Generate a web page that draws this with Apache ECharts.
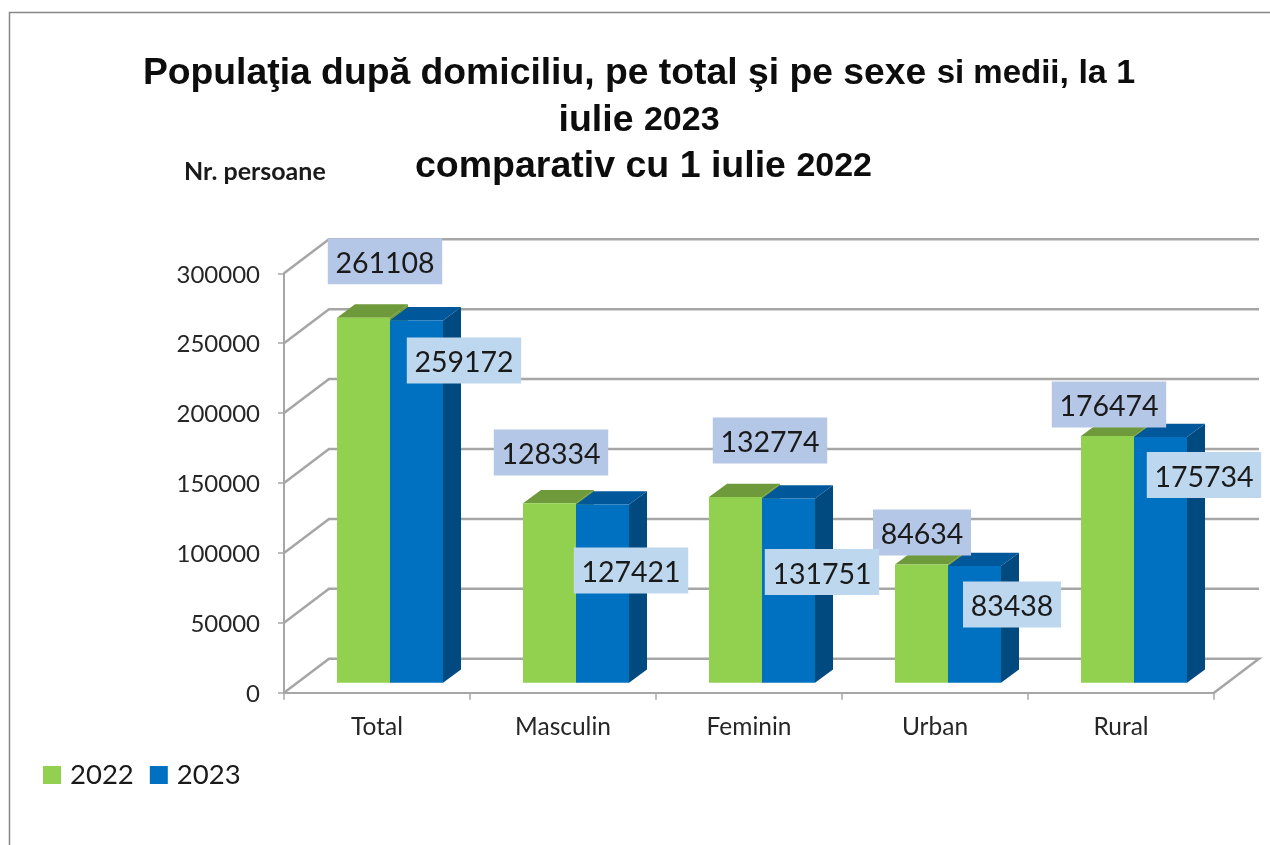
<!DOCTYPE html>
<html>
<head>
<meta charset="utf-8">
<style>html,body{margin:0;padding:0;background:#fff}#c{width:1270px;height:845px}</style>
<script src="https://cdn.jsdelivr.net/npm/echarts@6/dist/echarts.min.js"></script>
</head>
<body>
<div id="c"></div>
<script>
var categories = ['Total', 'Masculin', 'Feminin', 'Urban', 'Rural'];
var values2022 = [261108, 128334, 132774, 84634, 176474];
var values2023 = [259172, 127421, 131751, 83438, 175734];
var yTicks = [0, 50000, 100000, 150000, 200000, 250000, 300000];

// hand-placed data label nudges in the original, relative to the bar's top front edge
var labelNudge2022 = [[21.5, -56.5], [1.5, -50.8], [34.5, -56.6], [0.5, -32], [1.5, -31.5]];
var labelNudge2023 = [[47.5, 40], [28.5, 66], [33.5, 73.5], [37.5, 38.5], [43.5, 38]];

var WALL_DX = 45, WALL_DY = -34;     // depth of the chart floor
var FRONT_DX = 13, FRONT_DY = -10;   // bars' front plane, behind the axis plane
var BAR_DX = 18, BAR_DY = -13.3;     // depth of a bar
var BAR_SHARE = 53 / 186;
var GRID_COLOR = '#a6a6a6';
var LABEL_DIGIT = 16.4, LABEL_PAD = 8, LABEL_H = 46, LABEL_TEXT_DROP = 2.5;

function pairs(values) {
  return values.map(function (v, i) { return [categories[i], v]; });
}

function barRenderer(seriesIndex, front, top, side, nudges, labelBg) {
  return function (params, api) {
    var i = params.dataIndex;
    var val = api.value(1);
    var pt = api.coord([api.value(0), val]);
    var base = api.coord([api.value(0), 0]);
    var w = api.size([1, 0])[0] * BAR_SHARE;
    var x0 = pt[0] - w + seriesIndex * w + FRONT_DX;
    var x1 = x0 + w;
    var yT = pt[1] + FRONT_DY;
    var yB = base[1] + FRONT_DY;
    var nudge = nudges[i];
    var text = String(val);
    var lx = x0 + w / 2 + nudge[0];
    var ly = yT + nudge[1];
    var lw = text.length * LABEL_DIGIT + LABEL_PAD * 2;
    return {
      type: 'group',
      children: [
        { type: 'polygon', z2: seriesIndex,
          shape: { points: [[x1, yT], [x1 + BAR_DX, yT + BAR_DY], [x1 + BAR_DX, yB + BAR_DY], [x1, yB]] },
          style: { fill: side } },
        { type: 'polygon', z2: seriesIndex,
          shape: { points: [[x0, yT], [x0 + BAR_DX, yT + BAR_DY], [x1 + BAR_DX, yT + BAR_DY], [x1, yT]] },
          style: { fill: top } },
        { type: 'rect', z2: seriesIndex,
          shape: { x: x0, y: yT, width: w, height: yB - yT },
          style: { fill: front } },
        { type: 'rect', z2: 100 + seriesIndex,
          shape: { x: lx - lw / 2, y: ly - LABEL_H / 2, width: lw, height: LABEL_H },
          style: { fill: labelBg } },
        { type: 'text', z2: 110 + seriesIndex,
          style: {
            text: text,
            x: lx, y: ly + LABEL_TEXT_DROP,
            align: 'center', verticalAlign: 'middle',
            font: '28.5px Lato', fill: '#1a1a1a'
          } }
      ]
    };
  };
}

var chart = echarts.init(document.getElementById('c'), null, { renderer: 'canvas' });
chart.setOption({
  animation: false,
  backgroundColor: '#ffffff',
  title: [
    { text: '{a|Populaţia după domiciliu, pe total şi pe sexe }{b|si medii}{c|, la 1}',
      left: 634, top: 50, textAlign: 'center',
      textStyle: { rich: {
        a: { fontFamily: 'Liberation Sans', fontWeight: 'bold', fontSize: 37.3, color: '#0d0d0d' },
        b: { fontFamily: 'Liberation Sans', fontWeight: 'bold', fontSize: 33, color: '#0d0d0d' },
        c: { fontFamily: 'Liberation Sans', fontWeight: 'bold', fontSize: 34, color: '#0d0d0d' } } } },
    { text: '{a|iulie }{b|2023}',
      left: 634, top: 97, textAlign: 'center',
      textStyle: { rich: {
        a: { fontFamily: 'Liberation Sans', fontWeight: 'bold', fontSize: 37.5, color: '#0d0d0d' },
        b: { fontFamily: 'Liberation Sans', fontWeight: 'bold', fontSize: 34, color: '#0d0d0d' } } } },
    { text: '{a|comparativ cu 1 iulie }{b|2022}',
      left: 638.5, top: 143, textAlign: 'center',
      textStyle: { rich: {
        a: { fontFamily: 'Liberation Sans', fontWeight: 'bold', fontSize: 37.5, color: '#0d0d0d' },
        b: { fontFamily: 'Liberation Sans', fontWeight: 'bold', fontSize: 34, color: '#0d0d0d' } } } },
    { text: 'Nr. persoane', left: 179, top: 154,
      textStyle: { fontFamily: 'Lato', fontWeight: 'bold', fontSize: 25, color: '#1a1a1a' } }
  ],
  legend: {
    data: ['2022', '2023'], left: 38, top: 756, itemWidth: 18, itemHeight: 18, itemGap: 16,
    icon: 'rect',
    textStyle: { fontFamily: 'Lato', fontSize: 27.5, color: '#1a1a1a', padding: [0, 0, 0, 4] }
  },
  grid: { left: 284, top: 273.3, width: 930, height: 419.4, containLabel: false },
  xAxis: {
    type: 'category', data: categories,
    axisLine: { lineStyle: { color: GRID_COLOR, width: 2 } },
    axisTick: { show: true, length: 7, lineStyle: { color: GRID_COLOR, width: 1.5 } },
    axisLabel: { fontFamily: 'Lato', fontSize: 24.5, color: '#262626', margin: 22 },
    splitLine: { show: false }
  },
  yAxis: {
    type: 'value', min: 0, max: 300000, interval: 50000,
    axisLine: { show: true, lineStyle: { color: GRID_COLOR, width: 2 } },
    axisTick: { show: true, length: 6, lineStyle: { color: GRID_COLOR, width: 1.5 } },
    axisLabel: { margin: 24, formatter: function (v) { return '{a|' + v + '}'; },
      rich: { a: { fontFamily: 'Lato', fontSize: 24, color: '#262626', padding: [3, 0, 0, 0] } } },
    splitLine: { show: false }
  },
  graphic: [
    { type: 'polyline', silent: true, z: 0,
      shape: { points: [[9.5, 845], [9.5, 12.5], [1270, 12.5]] },
      style: { stroke: '#868686', lineWidth: 1.5, fill: null } }
  ],
  series: [
    { type: 'custom', name: 'walls', z: 1, silent: true, clip: false,
      data: yTicks.map(function (v) { return [0, v]; }),
      encode: { x: 0, y: 1 },
      renderItem: function (params, api) {
        var cs = params.coordSys;
        var v = api.value(1);
        var y = api.coord([0, v])[1];
        var x0 = cs.x, x1 = cs.x + cs.width;
        var pts = [[x0, y], [x0 + WALL_DX, y + WALL_DY], [x1 + WALL_DX, y + WALL_DY]];
        if (v === 0) { pts.push([x1, y]); }
        return { type: 'polyline', shape: { points: pts },
                 style: { stroke: GRID_COLOR, lineWidth: 2.5, fill: null } };
      } },
    { type: 'custom', name: '2022', z: 2, clip: false,
      itemStyle: { color: '#92d050' },
      data: pairs(values2022), encode: { x: 0, y: 1 },
      renderItem: barRenderer(0, '#92d050', '#6f9a3b', '#6f9a3b', labelNudge2022, '#b5c7e6') },
    { type: 'custom', name: '2023', z: 2, clip: false,
      itemStyle: { color: '#0070c0' },
      data: pairs(values2023), encode: { x: 0, y: 1 },
      renderItem: barRenderer(1, '#0070c0', '#00589a', '#004a80', labelNudge2023, '#bdd7ee') }
  ]
});
</script>
</body>
</html>
